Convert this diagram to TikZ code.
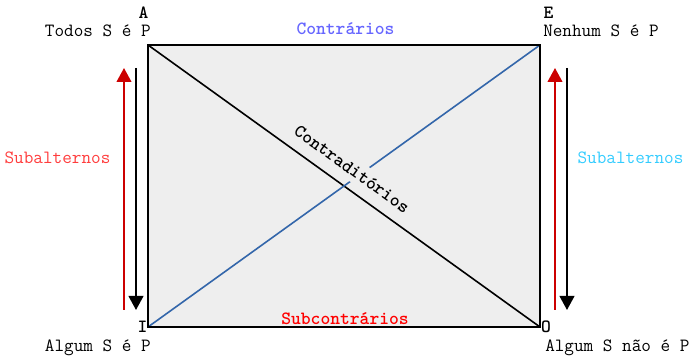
\documentclass[tikz,border=0pt]{standalone}
\usepackage{fontspec}
\usepackage{tikz}
\usetikzlibrary{arrows.meta,positioning,calc}
\definecolor{SquareFill}{RGB}{238,238,238}
\definecolor{DiagBlue}{RGB}{51,102,170}
\definecolor{ContraBlue}{RGB}{102,102,255}
\definecolor{SubRed}{RGB}{255,0,0}
\definecolor{AltRed}{RGB}{255,60,60}
\definecolor{AltCyan}{RGB}{51,204,255}
\definecolor{ArrowRed}{RGB}{204,0,0}
\newcommand{\sqfont}{\ttfamily\fontsize{14}{16}\selectfont}
\tikzset{
  corner/.style={font=\sqfont\bfseries,inner sep=0pt,anchor=base},
  proposition/.style={font=\sqfont,inner sep=0pt},
  relation/.style={font=\sqfont\bfseries,inner sep=0pt,anchor=base},
  subalt/.style={font=\sqfont,inner sep=0pt,anchor=base},
  uparrow/.style={-{Triangle[width=11pt,length=10.5pt]},line width=1.5pt,ArrowRed},
  downarrow/.style={-{Triangle[width=11pt,length=10.5pt]},line width=1.5pt,black}
}

\begin{document}
\begin{tikzpicture}[x=0.75pt,y=-0.75pt]
  \useasboundingbox (0,0) rectangle (690,356);
  % corners of the square
  \coordinate (A) at (148,45);
  \coordinate (E) at (540,45);
  \coordinate (I) at (148,327);
  \coordinate (O) at (540,327);
  \fill[SquareFill] (A) rectangle (O);
  \draw[line width=1.2pt] (A) -- (O);
  \draw[line width=1.2pt,DiagBlue] (I) -- (E);
  \draw[line width=1.5pt] (A) rectangle (O);
  \node[font=\sqfont\bfseries,fill=SquareFill,inner sep=4pt,rotate=-35.7]
    (contrad) at (352,169) {Contraditórios};
  % vertex letters and propositions
  \node[corner] (labA) at (143.5,19) {A};
  \node[corner] (labE) at (548.5,19) {E};
  \node[corner] (labI) at (142.5,333) {I};
  \node[corner] (labO) at (546,333) {O};
  \node[proposition,anchor=base east] (propA) at (151,37) {Todos S é P};
  \node[proposition,anchor=base west] (propE) at (543,37) {Nenhum S é P};
  \node[proposition,anchor=base east] (propI) at (151,352) {Algum S é P};
  \node[proposition,anchor=base west] (propO) at (545,352) {Algum S não é P};
  % relations
  \node[relation,ContraBlue] (contr) at (345.5,35) {Contrários};
  \node[relation,SubRed] (subcontr) at (345,325) {Subcontrários};
  \node[subalt,AltRed] (subaltL) at (57.5,164) {Subalternos};
  \node[subalt,AltCyan] (subaltR) at (630.5,164) {Subalternos};
  % subalternation arrows
  \coordinate (redL-bot) at (124,310);
  \coordinate (redL-top) at (124,68);
  \coordinate (blkL-top) at (136,68);
  \coordinate (blkL-bot) at (136,310);
  \coordinate (redR-bot) at (555,310);
  \coordinate (redR-top) at (555,68);
  \coordinate (blkR-top) at (567,68);
  \coordinate (blkR-bot) at (567,310);
  \draw[uparrow] (redL-bot) -- (redL-top);
  \draw[downarrow] (blkL-top) -- (blkL-bot);
  \draw[uparrow] (redR-bot) -- (redR-top);
  \draw[downarrow] (blkR-top) -- (blkR-bot);
\end{tikzpicture}
\end{document}
